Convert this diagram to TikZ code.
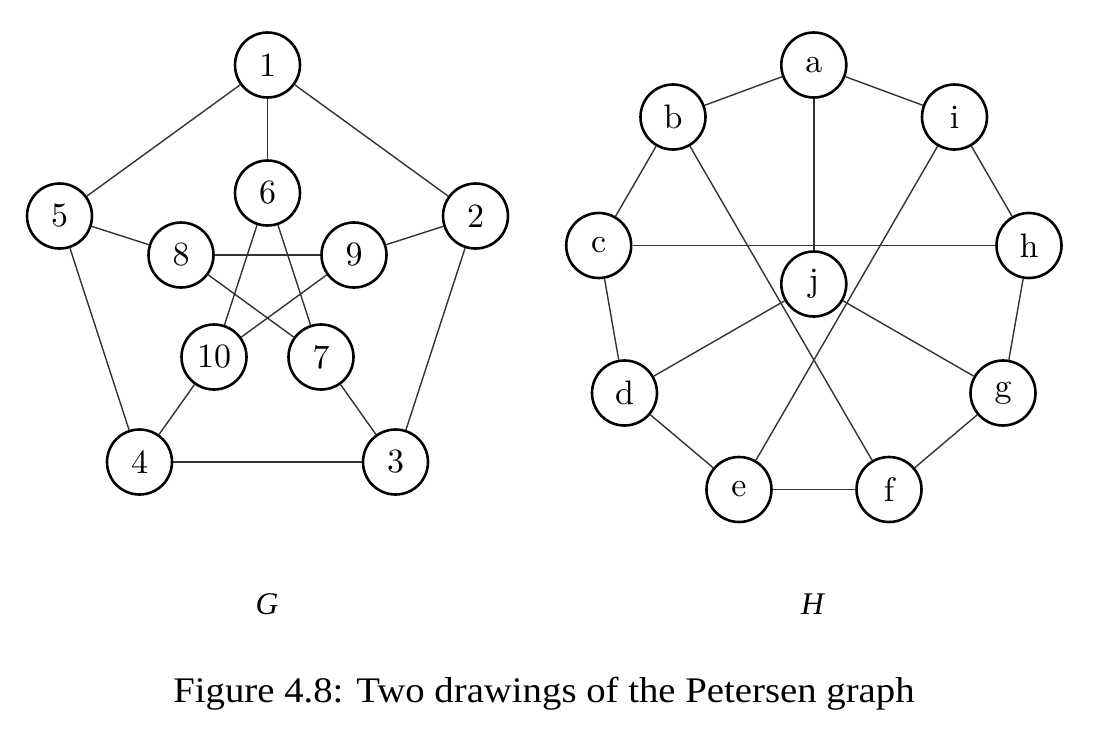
\documentclass[tikz,border=0pt]{standalone}
\usepackage{fontspec}
\newfontfamily\capfont{Liberation Serif}
\newfontfamily\cmten{lmroman10-regular.otf}
\begin{document}
\begin{tikzpicture}[x=1pt,y=-1pt,
  vtx/.style={circle, draw, line width=2.6pt, minimum size=65pt, inner sep=0pt,
    font=\cmten\fontsize{34}{34}\selectfont},
  edge/.style={line width=1.4pt, draw=black!80},
  glabel/.style={anchor=base, inner sep=0pt, font=\capfont\itshape\fontsize{31.5}{32}\selectfont},
  caption/.style={anchor=base, inner sep=0pt, xscale=1.077, font=\capfont\fontsize{36}{38}\selectfont}]
\useasboundingbox (0,0) rectangle (1101,729);
% Graph G
\node[vtx] (g1) at (267.5,65) {1};
\node[vtx] (g6) at (267.5,193) {6};
\node[vtx] (g5) at (59.5,216) {5};
\node[vtx] (g2) at (475.5,216) {2};
\node[vtx] (g8) at (181,255) {8};
\node[vtx] (g9) at (354,255) {9};
\node[vtx] (g10) at (214,357) {10};
\node[vtx] (g7) at (321,357) {7};
\node[vtx] (g4) at (139.5,462) {4};
\node[vtx] (g3) at (395.5,462) {3};
\draw[edge] (g1) -- (g5);
\draw[edge] (g1) -- (g2);
\draw[edge] (g1) -- (g6);
\draw[edge] (g5) -- (g8);
\draw[edge] (g5) -- (g4);
\draw[edge] (g2) -- (g9);
\draw[edge] (g2) -- (g3);
\draw[edge] (g4) -- (g3);
\draw[edge] (g4) -- (g10);
\draw[edge] (g3) -- (g7);
\draw[edge] (g6) -- (g10);
\draw[edge] (g6) -- (g7);
\draw[edge] (g8) -- (g9);
\draw[edge] (g8) -- (g7);
\draw[edge] (g9) -- (g10);
% Graph H
\node[vtx] (ha) at (813.8,65) {a};
\node[vtx] (hb) at (673,117) {b};
\node[vtx] (hi) at (954.5,117) {i};
\node[vtx] (hc) at (598.7,245.5) {c};
\node[vtx] (hh) at (1029,245.5) {h};
\node[vtx] (hj) at (813.8,284) {j};
\node[vtx] (hd) at (624.5,393) {d};
\node[vtx] (hg) at (1003,393) {g};
\node[vtx] (he) at (739,489.5) {e};
\node[vtx] (hf) at (889,489.5) {f};
\draw[edge] (ha) -- (hb);
\draw[edge] (ha) -- (hi);
\draw[edge] (ha) -- (hj);
\draw[edge] (hb) -- (hc);
\draw[edge] (hb) -- (hf);
\draw[edge] (hi) -- (hh);
\draw[edge] (hi) -- (he);
\draw[edge] (hc) -- (hh);
\draw[edge] (hc) -- (hd);
\draw[edge] (hj) -- (hd);
\draw[edge] (hj) -- (hg);
\draw[edge] (hd) -- (he);
\draw[edge] (he) -- (hf);
\draw[edge] (hf) -- (hg);
\draw[edge] (hg) -- (hh);
% Labels
\node[glabel] (labG) at (267,614) {G};
\node[glabel] (labH) at (812.5,614) {H};
\node[caption] (cap) at (544,702) {Figure 4.8: Two drawings of the Petersen graph};
\end{tikzpicture}
\end{document}
